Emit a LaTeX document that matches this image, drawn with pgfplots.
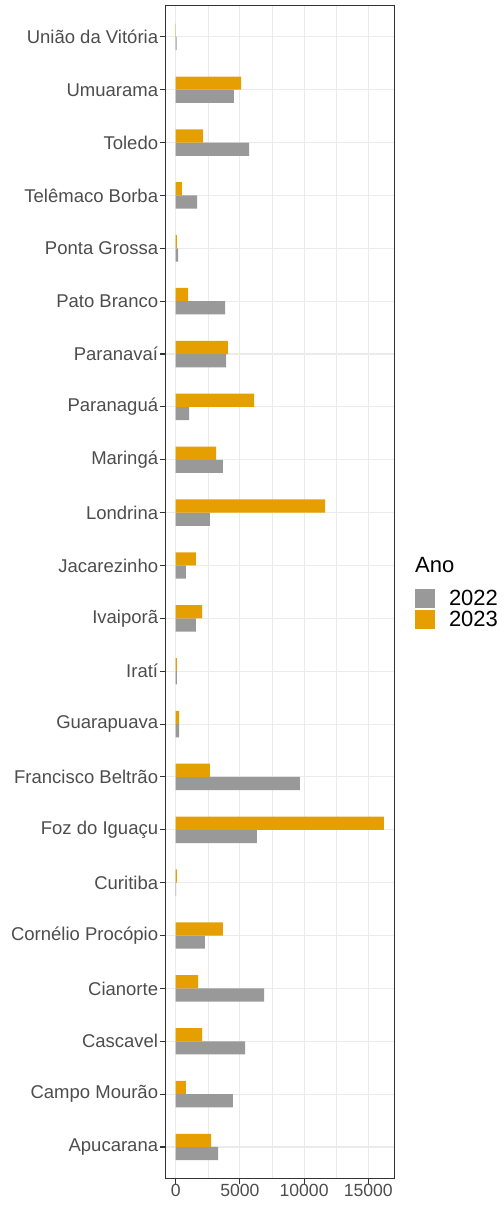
\documentclass[border=0pt]{standalone}
\usepackage{fontspec}
\setmainfont{Liberation Sans}
\usepackage{pgfplots}
\pgfplotsset{compat=1.18}
\definecolor{bartwo}{HTML}{999999}
\definecolor{barthree}{HTML}{E69F00}
\definecolor{gridc}{HTML}{EBEBEB}
\definecolor{framec}{HTML}{333333}
\definecolor{ticktext}{HTML}{4D4D4D}
\begin{document}
\begin{tikzpicture}[x=1bp,y=1bp]
\path[use as bounding box] (0,0) rectangle (504,1205);
\begin{axis}[
 at={(165.3bp,26.3bp)}, anchor=south west,
 scale only axis, width=229bp, height=1173.5bp,
 xmin=-810, xmax=17025, ymin=0.4, ymax=22.6,
 clip=false,
 xbar, bar width=0.25,
 xtick={0,5000,10000,15000}, minor xtick={2500,7500,12500},
 ytick={1,...,22},
 yticklabels={Apucarana,Campo Mourão,Cascavel,Cianorte,Cornélio Procópio,Curitiba,Foz do Iguaçu,Francisco Beltrão,Guarapuava,Iratí,Ivaiporã,Jacarezinho,Londrina,Maringá,Paranaguá,Paranavaí,Pato Branco,Ponta Grossa,Telêmaco Borba,Toledo,Umuarama,União da Vitória},
 grid=both,
 major grid style={gridc, line width=1.1bp},
 minor grid style={gridc, line width=0.55bp},
 axis line style={framec, line width=1.1bp},
 tick align=outside, major tick length=5.5bp, minor tick length=0pt,
 major tick style={framec, line width=1.1bp},
 xtick pos=bottom, ytick pos=left,
 scaled x ticks=false,
 xticklabel style={/pgf/number format/1000 sep={}},
 /pgf/number format/assume math mode=true,
 tick label style={text=ticktext, inner sep=0pt},
 xticklabel style={font=\fontsize{17.6bp}{20bp}\selectfont, yshift=0bp},
 yticklabel style={font=\fontsize{18.5bp}{21bp}\selectfont, xshift=-1.5bp},
 legend style={at={(1,0.5)}, anchor=west, xshift=20.7bp, yshift=-17bp, draw=none, fill=none,
   inner sep=0pt, outer sep=0pt, row sep=2bp, column sep=14bp,
   nodes={inner sep=0pt, font=\fontsize{22bp}{24bp}\selectfont}},
 legend cell align=left,
 legend image code/.code={\fill[#1] (0bp,-9.5bp) rectangle (20bp,9.5bp);},
]
\addplot[fill=bartwo, draw=none, bar shift=-0.125] coordinates {
(3300,1) (4460,2) (5400,3) (6880,4) (2280,5) (30,6) (6330,7) (9680,8) (260,9) (100,10) (1580,11)
(800,12) (2670,13) (3680,14) (1040,15) (3920,16) (3840,17) (180,18) (1660,19) (5710,20) (4540,21) (80,22)};
\addplot[fill=barthree, draw=none, bar shift=0.125] coordinates {
(2750,1) (800,2) (2050,3) (1740,4) (3680,5) (100,6) (16220,7) (2670,8) (260,9) (100,10) (2050,11)
(1580,12) (11630,13) (3140,14) (6100,15) (4070,16) (960,17) (100,18) (490,19) (2130,20) (5090,21) (20,22)};
\legend{2022,2023}
\node[anchor=base west, inner sep=0pt, font=\fontsize{22bp}{24bp}\selectfont] at (axis description cs:1,0.5) [xshift=20.7bp, yshift=19bp] {Ano};
\end{axis}
\end{tikzpicture}
\end{document}
